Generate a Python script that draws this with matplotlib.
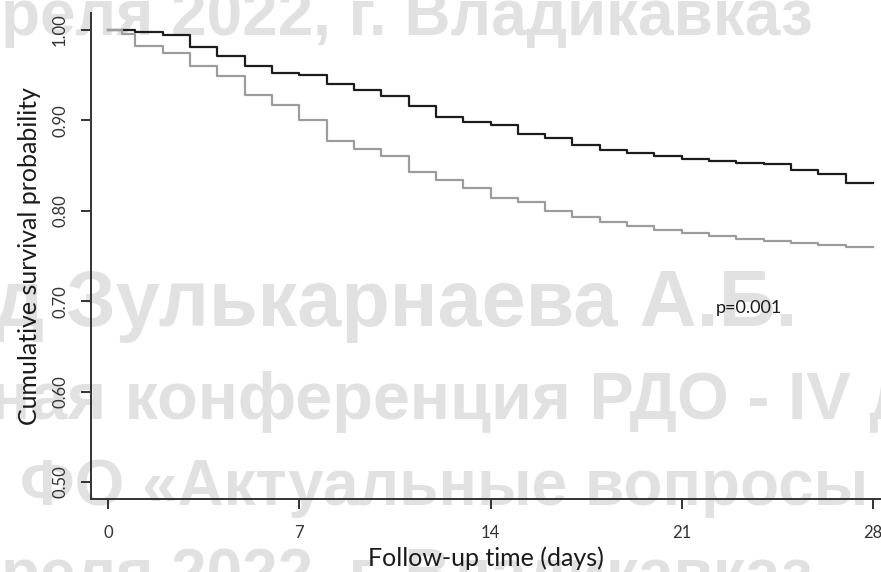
import matplotlib
matplotlib.use('Agg')
import matplotlib.pyplot as plt

# Kaplan-Meier curves
days_a = [0, 1, 2, 3, 4, 5, 6, 7, 8, 9, 10, 11, 12, 13, 14, 15, 16, 17, 18, 19,
          20, 21, 22, 23, 24, 25, 26, 27, 28]
surv_a = [1.000, 0.998, 0.995, 0.981, 0.971, 0.960, 0.952, 0.950, 0.940, 0.934,
          0.927, 0.916, 0.904, 0.898, 0.895, 0.885, 0.880, 0.873, 0.867, 0.864,
          0.861, 0.857, 0.855, 0.853, 0.852, 0.845, 0.841, 0.831, 0.831]

days_b = [0, 0.5, 1, 2, 3, 4, 5, 6, 7, 8, 9, 10, 11, 12, 13, 14, 15, 16, 17, 18,
          19, 20, 21, 22, 23, 24, 25, 26, 27, 28]
surv_b = [1.000, 0.996, 0.982, 0.975, 0.960, 0.949, 0.928, 0.917, 0.900, 0.877,
          0.868, 0.861, 0.843, 0.834, 0.825, 0.814, 0.810, 0.800, 0.793, 0.788,
          0.783, 0.779, 0.775, 0.772, 0.769, 0.767, 0.764, 0.762, 0.760, 0.760]

x_ticks = [0, 7, 14, 21, 28]
y_ticks = [0.50, 0.60, 0.70, 0.80, 0.90, 1.00]
p_text = 'p=0.001'

# watermark lines of the page behind the chart (text, left px, baseline px, size)
watermark = [
    ('реля 2022, г. Владикавказ', 1, 35, 46),
    ('д Зулькарнаева А.Б.', -6, 326, 57),
    ('ная конференция РДО - IV д', -10, 419, 48),
    ('ФО «Актуальные вопросы', 20, 505, 46),
    ('реля 2022, г. Владикавказ', 1, 594, 46),
]

W, H = 881, 572
fig = plt.figure(figsize=(W / 100, H / 100), dpi=100)
fig.patch.set_facecolor('white')

for txt, x, y, size in watermark:
    fig.text(x / W, 1 - y / H, txt, fontsize=size, fontweight='bold',
             family='Liberation Sans', color='#e1e1e1', ha='left', va='baseline',
             zorder=-1)

ax = fig.add_axes([91 / W, 1 - 499 / H, 1 - 91 / W, (499 - 13) / H])
ax.set_facecolor('none')

ax.step(days_a, surv_a, where='post', color='#1c1c1c', lw=1.6)
ax.step(days_b, surv_b, where='post', color='#9c9c9c', lw=1.6)

ax.set_xlim(-0.62, 28.29)
ax.set_ylim(0.4812, 1.0188)

for s in ['top', 'right']:
    ax.spines[s].set_visible(False)
for s in ['left', 'bottom']:
    ax.spines[s].set_color('#333333')
    ax.spines[s].set_linewidth(1.4)

ax.set_xticks(x_ticks)
ax.set_xticklabels([str(t) for t in x_ticks], family='Lato', fontsize=12,
                   color='#333333')
ax.set_yticks(y_ticks)
ax.set_yticklabels(['%.2f' % t for t in y_ticks], family='Lato', fontsize=12,
                   color='#333333', rotation=90, va='center')
ax.tick_params(axis='both', length=7.5, width=1.4, color='#333333')
ax.tick_params(axis='x', pad=11)
ax.tick_params(axis='y', pad=9)

ax.set_xlabel('Follow-up time (days)', family='Lato', fontsize=18,
              color='#1a1a1a', labelpad=4)
ax.set_ylabel('Cumulative survival probability', family='Lato', fontsize=18,
              color='#1a1a1a', labelpad=8)

ax.text(22.26, 0.6925, p_text, family='Lato', fontsize=13, color='#1a1a1a',
        ha='left', va='center')

fig.savefig('out.png', dpi=100, facecolor='white')
